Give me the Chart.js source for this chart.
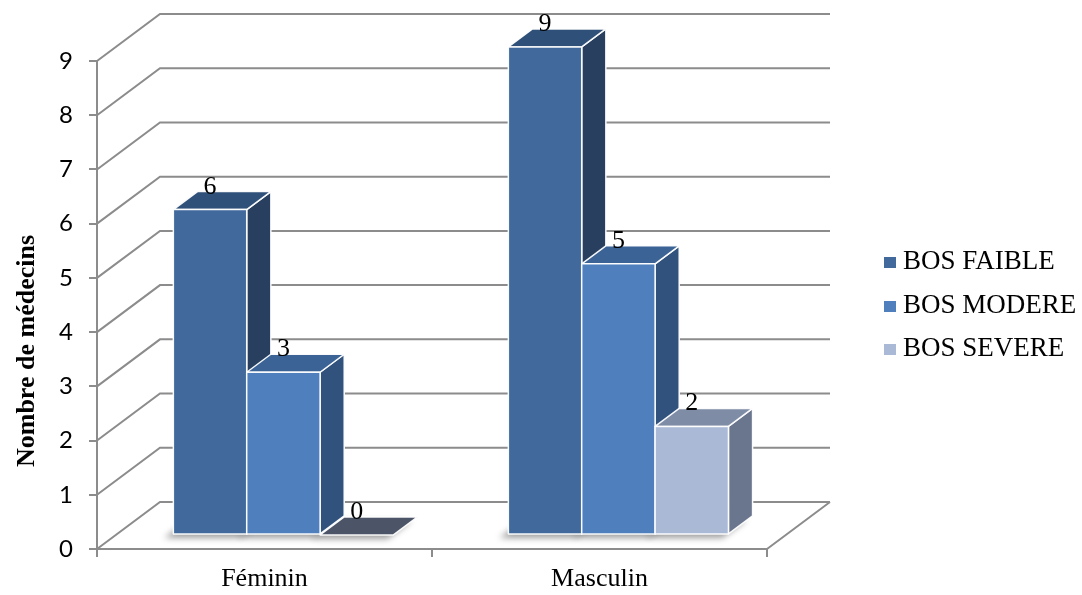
<!DOCTYPE html>
<html>
<head>
<meta charset="utf-8">
<script src="https://cdn.jsdelivr.net/npm/chart.js@4.4.1/dist/chart.umd.min.js"></script>
<style>
  html, body { margin: 0; padding: 0; background: #ffffff; }
  canvas { display: block; }
</style>
</head>
<body>
<canvas id="chart" width="1082" height="595"></canvas>
<script>
// ---- data ----
const categories = ['Féminin', 'Masculin'];
const seriesNames = ['BOS FAIBLE', 'BOS MODERE', 'BOS SEVERE'];
const bosFaible = [6, 9];
const bosModere = [3, 5];
const bosSevere = [0, 2];
const yTickValues = [0, 1, 2, 3, 4, 5, 6, 7, 8, 9];
const yAxisTitle = 'Nombre de médecins';

// ---- styling ----
const SERIF = '"Liberation Serif", "Times New Roman", serif';
const GRID = '#8c8c8c';
const WALL_DX = 63, WALL_DY = -47;          // depth of the floor / side wall
const BAR_FRONT = 0.30, BAR_DEPTH = 0.383;   // bar placement inside the depth
const faces = [
  { front: '#41699B', top: '#2F5078', side: '#283F5F', key: '#41699B' },
  { front: '#4F80BD', top: '#3B6396', side: '#32527E', key: '#4F80BD' },
  { front: '#AAB9D6', top: '#7F8CA6', side: '#6A768D', key: '#AAB9D6' }
];
const ZERO_TOP = '#4C5467';

function poly(ctx, pts) {
  ctx.beginPath();
  ctx.moveTo(pts[0][0], pts[0][1]);
  for (let i = 1; i < pts.length; i++) ctx.lineTo(pts[i][0], pts[i][1]);
  ctx.closePath();
}

const depthPlugin = {
  id: 'depth3d',
  beforeDatasetsDraw(chart) {
    const { ctx, chartArea: a, scales: { y } } = chart;
    ctx.save();
    ctx.strokeStyle = GRID;
    ctx.lineWidth = 2;
    ctx.beginPath();
    yTickValues.forEach(v => {
      const py = y.getPixelForValue(v);
      ctx.moveTo(a.left, py);
      ctx.lineTo(a.left + WALL_DX, py + WALL_DY);
      ctx.lineTo(a.right + WALL_DX, py + WALL_DY);
    });
    const p0 = y.getPixelForValue(0);
    ctx.moveTo(a.right + WALL_DX, p0 + WALL_DY);
    ctx.lineTo(a.right, p0);
    ctx.stroke();
    ctx.restore();
  },
  afterDatasetsDraw(chart) {
    const { ctx } = chart;
    const fx = WALL_DX * BAR_FRONT, fy = WALL_DY * BAR_FRONT;
    const dx = WALL_DX * BAR_DEPTH, dy = WALL_DY * BAR_DEPTH;
    const bars = [];
    categories.forEach((c, ci) => {
      chart.data.datasets.forEach((ds, di) => {
        const el = chart.getDatasetMeta(di).data[ci];
        const p = el.getProps(['x', 'y', 'base', 'width'], true);
        bars.push({
          di, value: ds.data[ci],
          L: p.x - p.width / 2 + fx, R: p.x + p.width / 2 + fx,
          T: p.y + fy, B: p.base + fy
        });
      });
    });

    // soft floor shadows
    ctx.save();
    ctx.filter = 'blur(3px)';
    ctx.fillStyle = 'rgba(0,0,0,0.38)';
    bars.forEach(b => {
      poly(ctx, [[b.L - 9, b.B + 4], [b.R - 6, b.B + 4], [b.R + dx - 6, b.B + dy + 4], [b.L + dx - 9, b.B + dy + 4]]);
      ctx.fill();
    });
    ctx.restore();

    ctx.save();
    ctx.lineJoin = 'round';
    ctx.strokeStyle = 'rgba(255,255,255,0.95)';
    ctx.lineWidth = 1.5;
    bars.forEach(b => {
      const f = faces[b.di];
      if (b.value === 0) {
        poly(ctx, [[b.L, b.B], [b.R, b.B], [b.R + dx, b.B + dy], [b.L + dx, b.B + dy]]);
        ctx.fillStyle = ZERO_TOP; ctx.fill(); ctx.stroke();
        return;
      }
      // side
      poly(ctx, [[b.R, b.T], [b.R + dx, b.T + dy], [b.R + dx, b.B + dy], [b.R, b.B]]);
      ctx.fillStyle = f.side; ctx.fill(); ctx.stroke();
      // top
      poly(ctx, [[b.L, b.T], [b.L + dx, b.T + dy], [b.R + dx, b.T + dy], [b.R, b.T]]);
      ctx.fillStyle = f.top; ctx.fill(); ctx.stroke();
      // front
      poly(ctx, [[b.L, b.T], [b.R, b.T], [b.R, b.B], [b.L, b.B]]);
      ctx.fillStyle = f.front; ctx.fill(); ctx.stroke();
    });
    ctx.restore();

    // value labels
    ctx.save();
    ctx.font = '26px ' + SERIF;
    ctx.fillStyle = '#000';
    ctx.textAlign = 'center';
    ctx.textBaseline = 'alphabetic';
    bars.forEach(b => {
      ctx.fillText(String(b.value), (b.L + b.R) / 2, b.T + dy + 2);
    });
    ctx.restore();
  },
  afterDraw(chart) {
    const { ctx } = chart;
    // legend
    ctx.save();
    ctx.font = '27px ' + SERIF;
    ctx.textBaseline = 'middle';
    ctx.textAlign = 'left';
    const rows = [262, 305.5, 348.5];
    seriesNames.forEach((n, i) => {
      ctx.fillStyle = faces[i].key;
      ctx.fillRect(884, Math.round(rows[i]) - 5, 12, 11);
      ctx.fillStyle = '#000';
      ctx.fillText(n, 903, rows[i]);
    });
    // y axis title
    ctx.translate(27, 351);
    ctx.rotate(-Math.PI / 2);
    ctx.font = 'bold 26px ' + SERIF;
    ctx.textAlign = 'center';
    ctx.fillText(yAxisTitle, 0, 0);
    ctx.restore();
  }
};

new Chart(document.getElementById('chart'), {
  type: 'bar',
  data: {
    labels: categories,
    datasets: [
      { label: seriesNames[0], data: bosFaible },
      { label: seriesNames[1], data: bosModere },
      { label: seriesNames[2], data: bosSevere }
    ].map(d => Object.assign(d, {
      backgroundColor: 'rgba(0,0,0,0)', borderWidth: 0,
      categoryPercentage: 0.657, barPercentage: 1.0
    }))
  },
  options: {
    responsive: false,
    animation: false,
    devicePixelRatio: 1,
    layout: { padding: { left: 0, top: 61, right: 315, bottom: 0 } },
    plugins: { legend: { display: false }, tooltip: { enabled: false } },
    scales: {
      y: {
        min: 0, max: 9,
        afterFit: s => { s.width = 97; },
        afterBuildTicks: s => { s.ticks = yTickValues.map(v => ({ value: v })); },
        ticks: { color: '#000', padding: 16, font: { family: 'Lato', size: 24 } },
        grid: { drawOnChartArea: false, drawTicks: true, tickLength: 8, color: GRID, lineWidth: 2 },
        border: { display: true, color: GRID, width: 2 }
      },
      x: {
        afterFit: s => { s.height = 46; },
        ticks: { color: '#000', padding: 7, font: { family: 'Liberation Serif', size: 26 } },
        grid: { offset: true, drawOnChartArea: false, drawTicks: true, tickLength: 8, color: GRID, lineWidth: 2 },
        border: { display: true, color: GRID, width: 2 }
      }
    }
  },
  plugins: [depthPlugin]
});
</script>
</body>
</html>
